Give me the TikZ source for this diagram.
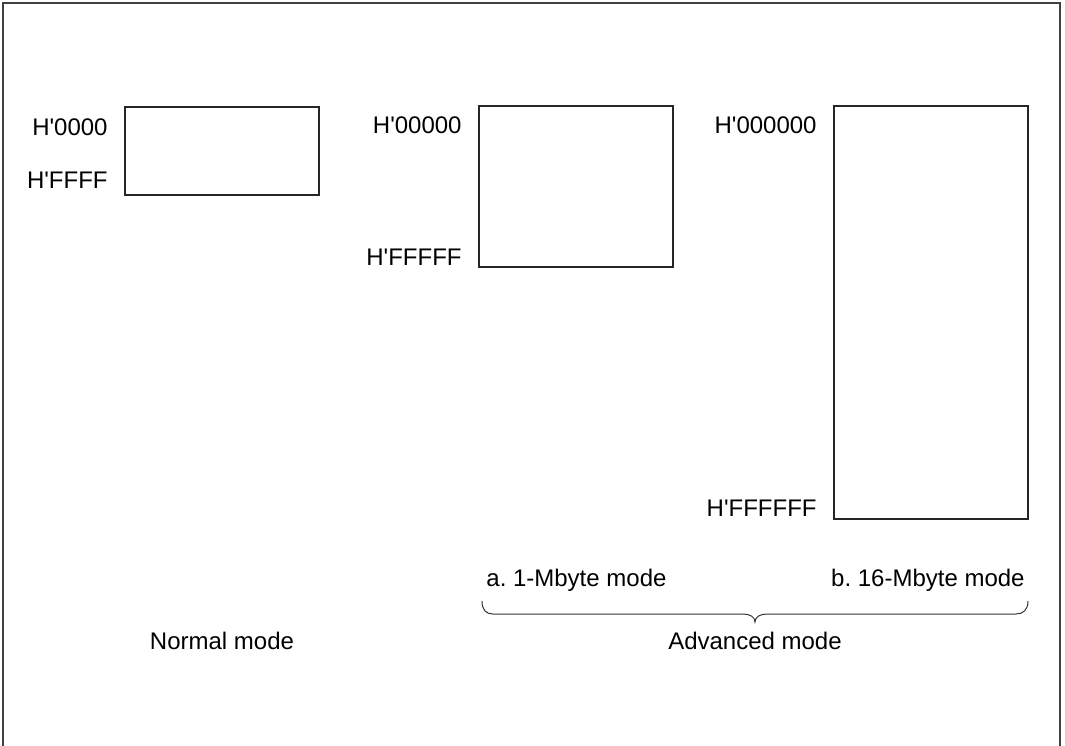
\documentclass[tikz,border=0pt]{standalone}
\usepackage{fontspec}
\setmainfont{Liberation Sans}
\begin{document}
\begin{tikzpicture}[x=0.5pt,y=-0.5pt,
  membox/.style={draw=black!85, line width=0.65pt, inner sep=0pt, fill=white},
  addr/.style={anchor=east, inner sep=0pt, font=\fontsize{12}{14}\selectfont},
  captiontext/.style={inner sep=0pt, font=\fontsize{12}{14}\selectfont},
  bracestyle/.style={draw=black!80, line width=0.5pt}]
\useasboundingbox (0,0) rectangle (1065,745);
\draw[draw=black!75, line width=1pt] (3,3) rectangle (1060,750);
% normal mode
\node[membox, minimum width=97pt, minimum height=44pt] (nbox) at (222,151) {};
\node[addr] (n0) at (108,127) {H\textquotesingle0000};
\node[addr] (n1) at (108,180) {H\textquotesingle FFFF};
\node[captiontext] (nm) at (222,641) {Normal mode};
% 1-Mbyte mode
\node[membox, minimum width=97pt, minimum height=80.5pt] (abox) at (576,186.5) {};
\node[addr] (a0) at (462,125) {H\textquotesingle00000};
\node[addr] (a1) at (462,257) {H\textquotesingle FFFFF};
\node[captiontext, anchor=west] (am) at (486,580) {a.\ 1-Mbyte mode};
% 16-Mbyte mode
\node[membox, minimum width=97pt, minimum height=206.5pt] (bbox) at (931,312.5) {};
\node[addr] (b0) at (817,125) {H\textquotesingle000000};
\node[addr] (b1) at (817,508) {H\textquotesingle FFFFFF};
\node[captiontext, anchor=east] (bm) at (1025,580) {b.\ 16-Mbyte mode};
% brace
\coordinate (bl) at (482,601);
\coordinate (br) at (1028,601);
\coordinate (tip) at (755,622);
\draw[bracestyle] (bl) .. controls ++(0,9) and ++(-7,0) .. ++(11,13)
  -- ++(250,0) .. controls ++(7,0) and ++(0,-5) .. (tip)
  .. controls ++(0,-5) and ++(-7,0) .. ++(12,-8)
  -- ++(249,0) .. controls ++(7,0) and ++(0,9) .. (br);
\node[captiontext] (adv) at (755,641) {Advanced mode};
\end{tikzpicture}
\end{document}
